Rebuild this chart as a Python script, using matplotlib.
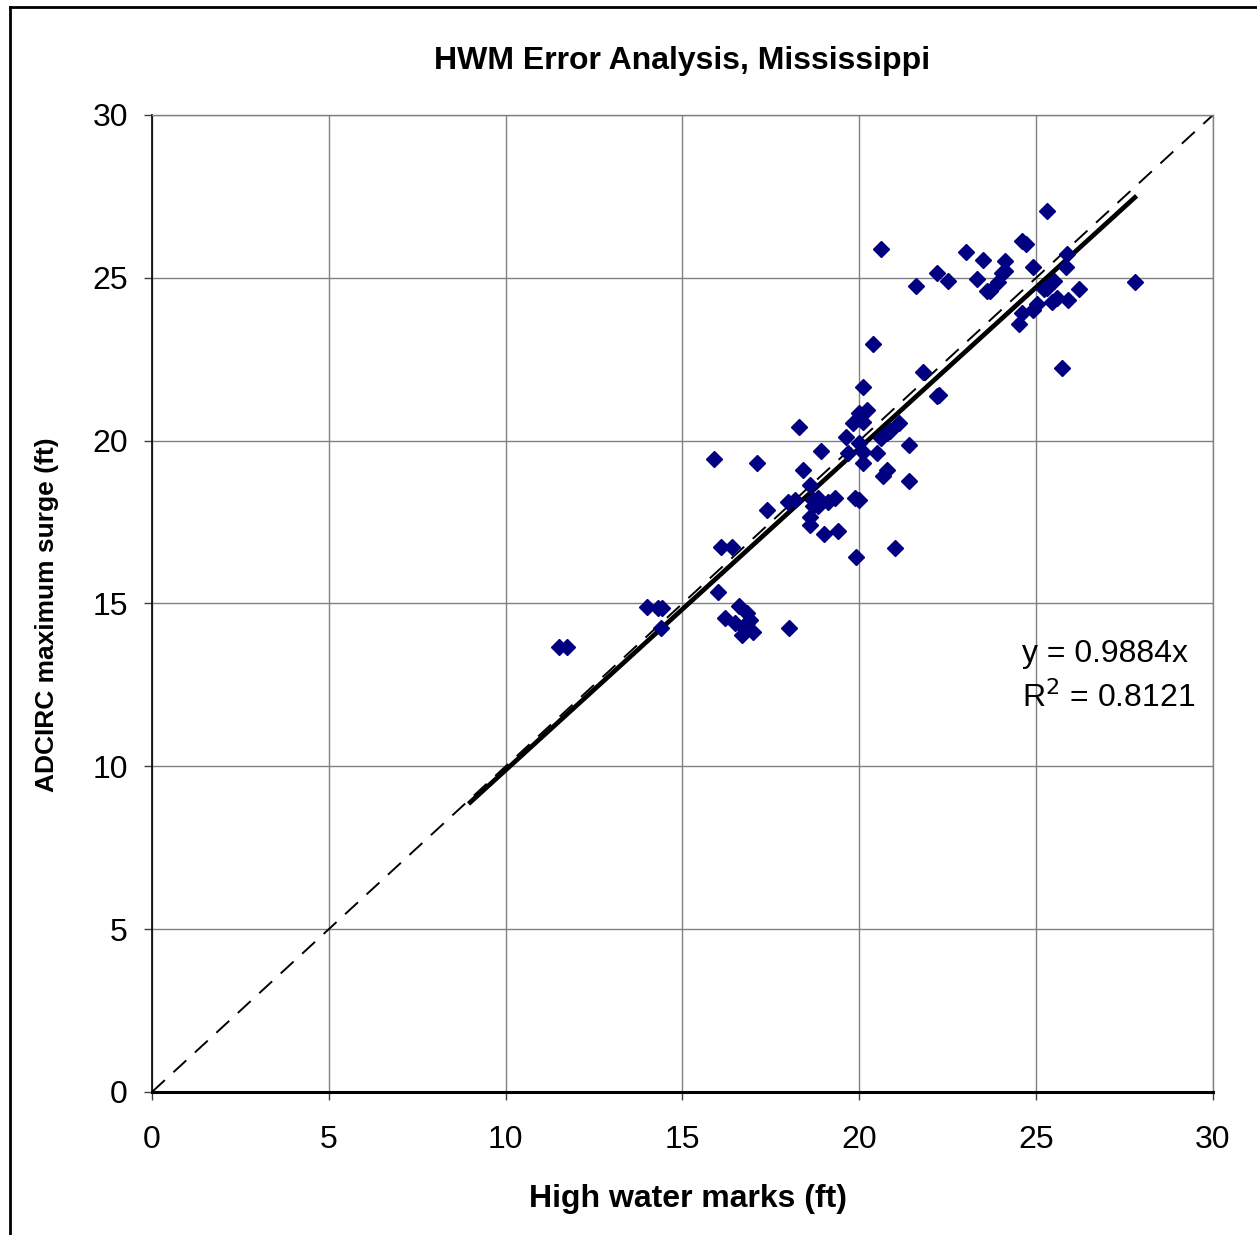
import matplotlib.pyplot as plt
from matplotlib.lines import Line2D
import numpy as np

plt.rcParams['font.family'] = ['Liberation Sans', 'DejaVu Sans']

# high water marks (ft) vs ADCIRC maximum surge (ft)
hwm = [11.52, 11.73, 14.00, 14.32, 14.41, 14.38, 15.90, 16.01, 16.09, 16.41,
       16.20, 16.61, 16.82, 16.91, 16.48, 16.72, 17.00, 16.67, 16.82, 18.01,
       17.11, 17.40, 17.99, 18.18, 18.29, 18.41, 18.60, 18.70, 18.84, 18.70,
       18.84, 18.60, 18.60, 18.91, 19.00, 19.12, 19.31, 19.41, 19.61, 19.69,
       19.81, 19.88, 19.98, 19.91, 19.98, 20.00, 20.21, 20.10, 20.10, 20.10,
       20.10, 20.40, 20.49, 20.60, 20.60, 20.77, 20.87, 20.77, 20.68, 21.01,
       21.12, 21.41, 21.41, 21.61, 21.81, 22.21, 22.21, 22.25, 22.50, 23.01,
       23.32, 23.51, 23.60, 23.69, 23.91, 24.03, 24.12, 24.12, 24.51, 24.59,
       24.71, 24.61, 24.91, 25.01, 24.91, 25.21, 25.31, 25.31, 25.50, 25.44,
       25.58, 25.72, 25.83, 25.87, 25.91, 26.21, 27.79]
adcirc = [13.67, 13.65, 14.90, 14.85, 14.85, 14.26, 19.44, 15.34, 16.73, 16.73,
          14.55, 14.92, 14.70, 14.49, 14.39, 14.29, 14.13, 14.03, 14.41, 14.24,
          19.30, 17.87, 18.13, 18.19, 20.41, 19.10, 18.64, 18.18, 18.23, 17.98,
          17.98, 17.67, 17.41, 19.68, 17.13, 18.13, 18.23, 17.23, 20.10, 19.61,
          20.53, 18.24, 18.19, 16.44, 19.94, 20.85, 20.94, 20.57, 21.65, 19.66,
          19.30, 22.97, 19.63, 25.88, 20.07, 20.23, 20.30, 19.10, 18.91, 16.70,
          20.55, 19.87, 18.77, 24.76, 22.12, 25.16, 21.37, 21.40, 24.90, 25.78,
          24.95, 25.55, 24.61, 24.61, 24.88, 25.16, 25.20, 25.52, 23.57, 26.13,
          26.04, 23.92, 25.33, 24.21, 24.00, 24.66, 27.06, 24.70, 24.90, 24.27,
          24.37, 22.22, 25.33, 25.73, 24.31, 24.67, 24.87]

slope = 0.9884
r2 = 0.8121
trend_start = 9.0

fig = plt.figure(figsize=(12.57, 12.35), dpi=100)
ax = fig.add_axes([0.1209, 0.1158, 0.8441, 0.7911])

ax.set_xlim(0, 30)
ax.set_ylim(0, 30)
ax.set_xticks(np.arange(0, 31, 5))
ax.set_yticks(np.arange(0, 31, 5))
ax.grid(True, color='#808080', linewidth=1)
ax.set_axisbelow(True)

# 1:1 line
ax.plot([0, 30], [0, 30], color='black', linestyle=(0, (9, 6)), linewidth=1.4)

# linear trendline through origin
tx = np.array([trend_start, max(hwm)])
ax.plot(tx, slope * tx, color='black', linewidth=3.4)

ax.plot(hwm, adcirc, linestyle='none', marker='D', markersize=7.8,
        color='#000080', markeredgecolor='#000080', clip_on=False)

ax.text(24.6, 13.45, 'y = %.4fx' % slope, fontsize=23, va='center', ha='left')
ax.text(24.6, 12.1, 'R$^2$ = %.4f' % r2, fontsize=23, va='center', ha='left')

for s in ['top', 'right']:
    ax.spines[s].set_color('#808080')
    ax.spines[s].set_linewidth(1)
ax.spines['left'].set_color('black')
ax.spines['left'].set_linewidth(1.2)
ax.spines['bottom'].set_color('black')
ax.spines['bottom'].set_linewidth(2.2)

ax.tick_params(axis='both', labelsize=23, direction='out', length=5.8, width=1,
               color='#404040')
ax.tick_params(axis='x', pad=18)
ax.tick_params(axis='y', pad=11.5)

fig.text(0.543, 0.951, 'HWM Error Analysis, Mississippi', fontsize=23,
         fontweight='bold', ha='center', va='center')
fig.text(0.547, 0.029, 'High water marks (ft)', fontsize=23,
         fontweight='bold', ha='center', va='center')
fig.text(0.037, 0.502, 'ADCIRC maximum surge (ft)', fontsize=19,
         fontweight='bold', ha='center', va='center', rotation=90)

# outer chart frame (only top and left edges visible)
fig.add_artist(Line2D([10 / 1257, 10 / 1257], [0, 1 - 7 / 1235],
                      transform=fig.transFigure, color='black', linewidth=2))
fig.add_artist(Line2D([10 / 1257, 1], [1 - 7 / 1235, 1 - 7 / 1235],
                      transform=fig.transFigure, color='black', linewidth=2))

fig.savefig('out.png', dpi=100)
